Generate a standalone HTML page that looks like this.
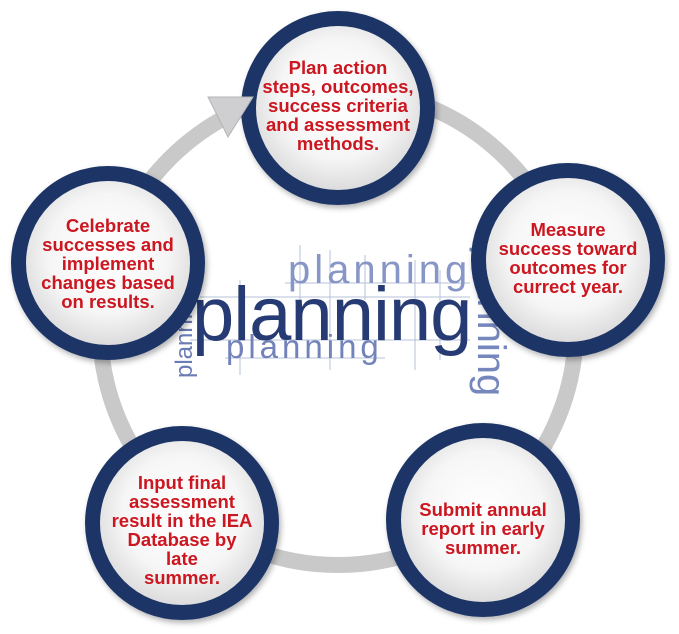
<!DOCTYPE html>
<html><head><meta charset="utf-8"><style>
html,body{margin:0;padding:0;background:#fff;width:679px;height:634px;overflow:hidden}
svg{display:block}
.t{font-family:"Liberation Sans",sans-serif;font-weight:bold;font-size:18.5px;fill:#cc1620;text-anchor:middle}
.w{font-family:"Liberation Sans",sans-serif;font-weight:normal}
</style></head><body>
<svg width="679" height="634" viewBox="0 0 679 634" xmlns="http://www.w3.org/2000/svg">
<defs>
<radialGradient id="g" cx="50%" cy="45%" r="55%">
<stop offset="0" stop-color="#ffffff"/><stop offset="0.6" stop-color="#f6f6f6"/><stop offset="1" stop-color="#d6d6d8"/>
</radialGradient>
<filter id="sh" x="-20%" y="-20%" width="140%" height="140%"><feDropShadow dx="2" dy="3" stdDeviation="3" flood-color="#000" flood-opacity="0.3"/></filter>
</defs>
<circle cx="338" cy="327" r="238" fill="none" stroke="#c9c9c9" stroke-width="16"/>
<g stroke="#9aa6cc" stroke-width="1" opacity="0.7">
<line x1="200" y1="297" x2="470" y2="297"/><line x1="190" y1="340" x2="470" y2="340"/>
<line x1="285" y1="283" x2="470" y2="283"/><line x1="225" y1="358" x2="385" y2="358"/>
<line x1="300" y1="245" x2="300" y2="300"/><line x1="330" y1="250" x2="330" y2="370"/>
<line x1="415" y1="260" x2="415" y2="370"/><line x1="240" y1="280" x2="240" y2="375"/>
<line x1="365" y1="255" x2="365" y2="300"/><line x1="440" y1="270" x2="440" y2="360"/>
</g>
<text class="w" x="288" y="283" font-size="40" letter-spacing="4" fill="#8796c6">planning</text>
<text class="w" x="226" y="358" font-size="33" letter-spacing="4" fill="#7283ba">planning</text>
<text class="w" x="192" y="340" font-size="76" letter-spacing="-1" fill="#263a73">planning</text>
<text class="w" transform="translate(192,378) rotate(-90)" font-size="24" fill="#6a7cb4">planning</text>
<text class="w" transform="translate(478,245) rotate(90)" font-size="40" fill="#7587bd">planning</text>
<g filter="url(#sh)">
<circle cx="338" cy="108" r="89.5" fill="url(#g)" stroke="#1f3566" stroke-width="15"/>
<circle cx="108" cy="263" r="89.5" fill="url(#g)" stroke="#1f3566" stroke-width="15"/>
<circle cx="568" cy="260" r="89.5" fill="url(#g)" stroke="#1f3566" stroke-width="15"/>
<circle cx="182" cy="523" r="89.5" fill="url(#g)" stroke="#1f3566" stroke-width="15"/>
<circle cx="483" cy="520" r="89.5" fill="url(#g)" stroke="#1f3566" stroke-width="15"/>
</g>
<polygon points="208,97 253,97 228,137" fill="#cfcfd1" stroke="#b4b4b6" stroke-width="1"/>
<text class="t"><tspan x="338" y="74">Plan action</tspan><tspan x="338" y="93">steps, outcomes,</tspan><tspan x="338" y="112">success criteria</tspan><tspan x="338" y="131">and assessment</tspan><tspan x="338" y="150">methods.</tspan></text>
<text class="t"><tspan x="108" y="232">Celebrate</tspan><tspan x="108" y="251">successes and</tspan><tspan x="108" y="270">implement</tspan><tspan x="108" y="289">changes based</tspan><tspan x="108" y="308">on results.</tspan></text>
<text class="t"><tspan x="568" y="236">Measure</tspan><tspan x="568" y="255">success toward</tspan><tspan x="568" y="274">outcomes for</tspan><tspan x="568" y="293">currect year.</tspan></text>
<text class="t"><tspan x="182" y="489">Input final</tspan><tspan x="182" y="508">assessment</tspan><tspan x="182" y="527">result in the IEA</tspan><tspan x="182" y="546">Database by</tspan><tspan x="182" y="565">late</tspan><tspan x="182" y="584">summer.</tspan></text>
<text class="t"><tspan x="483" y="516">Submit annual</tspan><tspan x="483" y="535">report in early</tspan><tspan x="483" y="554">summer.</tspan></text>
</svg>
</body></html>
